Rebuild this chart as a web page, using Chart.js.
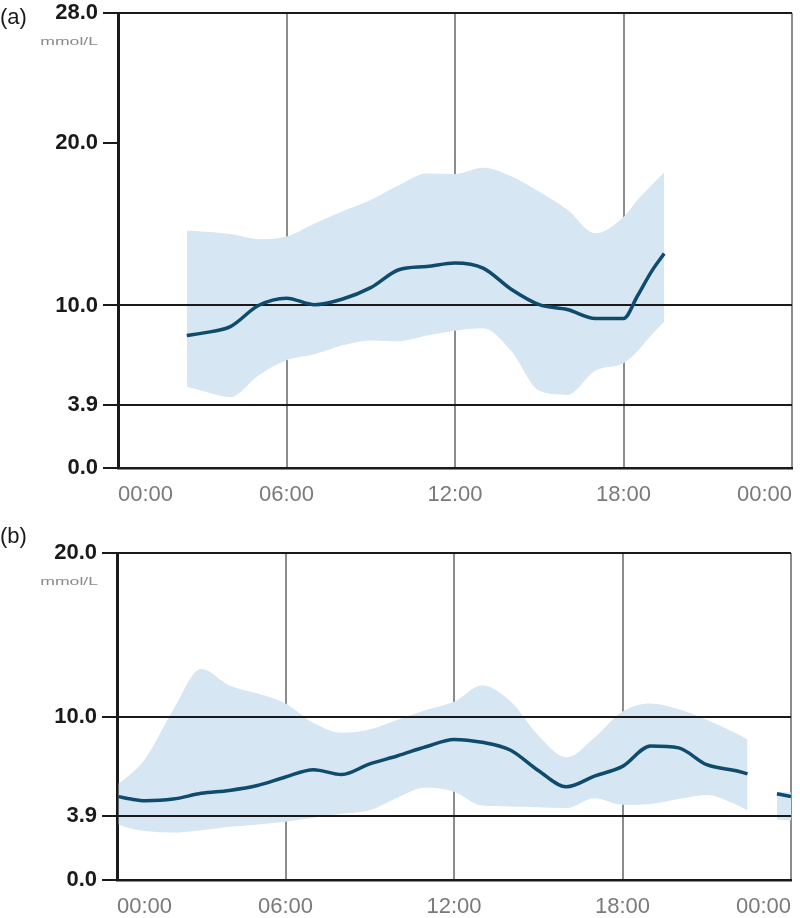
<!DOCTYPE html>
<html>
<head>
<meta charset="utf-8">
<title>Glucose profile</title>
<script src="https://cdn.jsdelivr.net/npm/chart.js@4.4.1/dist/chart.umd.min.js"></script>
<style>
  html, body { margin:0; padding:0; background:#fff; overflow:hidden; }
  #wrap { position:relative; width:800px; height:918px; overflow:hidden; }
  canvas { position:absolute; left:0; }
  #chartA { top:-3px; }
  #chartB { top:518px; }
</style>
</head>
<body>
<div id="wrap">
  <canvas id="chartA" width="806" height="511"></canvas>
  <canvas id="chartB" width="805" height="400"></canvas>
</div>
<script>
/* --------- data --------------------------------- */
const X_LABELS = ['00:00', '06:00', '12:00', '18:00', '00:00'];

// panel (a)
const Y_TICKS_A = [0, 3.9, 10, 20, 28];
const HOURS_A  = [2.45, 3, 4, 5, 6, 7, 8, 9, 10, 11, 12, 13, 14, 15, 16, 17, 18, 18.5, 19, 19.45];
const MEDIAN_A = [8.15, 8.3, 8.7, 10.0, 10.45, 10.05, 10.4, 11.1, 12.2, 12.4, 12.62, 12.3, 11.0, 10.05, 9.75, 9.2, 9.2, 10.6, 12.1, 13.2];
const UPPER_A  = [14.6, 14.55, 14.4, 14.1, 14.25, 15.05, 15.8, 16.5, 17.4, 18.12, 18.1, 18.48, 17.95, 17.0, 15.9, 14.45, 15.45, 16.5, 17.4, 18.2];
const LOWER_A  = [5.0, 4.75, 4.37, 5.7, 6.63, 7.0, 7.55, 7.85, 7.8, 8.15, 8.45, 8.6, 7.2, 4.75, 4.5, 6.0, 6.45, 7.2, 8.2, 9.0];

// panel (b)  (null = no data, line is broken)
const Y_TICKS_B = [0, 3.9, 10, 20];
const HOURS_B  = [0.05, 0.5, 1, 2, 3, 4, 5, 6, 7, 8, 9, 10, 11, 12, 13, 14, 15, 16, 17, 18, 19, 20, 21, 22, 22.45, 23, 23.5, 24];
const MEDIAN_B = [5.1, 4.95, 4.85, 4.95, 5.3, 5.48, 5.78, 6.3, 6.75, 6.45, 7.1, 7.6, 8.15, 8.6, 8.42, 7.95, 6.7, 5.7, 6.35, 6.95, 8.2, 8.08, 7.05, 6.7, 6.5, null, 5.28, 5.1];
const UPPER_B  = [5.9, 6.5, 7.4, 10.4, 12.9, 11.9, 11.4, 10.8, 9.6, 9.0, 9.2, 9.8, 10.4, 10.9, 11.9, 10.95, 8.85, 7.5, 8.7, 10.3, 10.8, 10.45, 9.8, 9.0, 8.6, null, 5.4, 5.35];
const LOWER_B  = [3.4, 3.15, 3.0, 2.9, 3.05, 3.25, 3.4, 3.57, 3.8, 4.05, 4.27, 5.05, 5.65, 5.4, 4.55, 4.5, 4.45, 4.4, 5.0, 4.6, 4.65, 4.95, 5.2, 4.65, 4.25, null, 3.7, 3.65];

// reference lines drawn over the band
const REF_LINES = [3.9, 10.0];

/* --------- styles ---------- */
const FONT = '"Liberation Sans", Arial, Helvetica, sans-serif';
const BAND_COLOR = '#d6e6f2';
const LINE_COLOR = '#0f4b6c';
const GRID_GRAY = '#8c8c8c';
const INK = '#1a1a1a';

const pts = (xs, ys) => xs.map((x, i) => ({ x: x, y: ys[i] }));

/* reference lines + panel letter + unit */
const overlay = {
  id: 'overlay',
  afterDatasetDraw(chart, args, opts) {
    if (args.index !== 1) return; // after the band, before the median line
    const { ctx, chartArea, scales } = chart;
    ctx.save();
    ctx.strokeStyle = INK;
    ctx.lineWidth = 2;
    opts.lines.forEach(v => {
      const y = Math.round(scales.y.getPixelForValue(v));
      ctx.beginPath();
      ctx.moveTo(chartArea.left, y);
      ctx.lineTo(chartArea.right, y);
      ctx.stroke();
    });
    ctx.restore();
  },
  afterDraw(chart, args, opts) {
    const { ctx, chartArea } = chart;
    ctx.save();
    ctx.fillStyle = INK;
    ctx.font = '22px ' + FONT;
    ctx.textAlign = 'left';
    ctx.textBaseline = 'middle';
    ctx.fillText(opts.letter, 0, chartArea.top + opts.letterDy);
    // unit, a bit stretched like in the source
    ctx.fillStyle = '#8a8a8a';
    ctx.font = '11px ' + FONT;
    ctx.textAlign = 'right';
    ctx.translate(98, chartArea.top + 29);
    ctx.scale(1.6, 1);
    ctx.fillText(opts.unit, 0, 0);
    ctx.restore();
  }
};

function makeChart(id, p) {
  const ctx = document.getElementById(id).getContext('2d');
  return new Chart(ctx, {
    type: 'line',
    data: {
      datasets: [
        { label: 'Median', data: pts(p.hours, p.median), borderColor: LINE_COLOR, borderWidth: 3.5,
          pointRadius: 0, cubicInterpolationMode: 'monotone', spanGaps: false, fill: false },
        { label: 'Upper', data: pts(p.hours, p.upper), borderWidth: 0, borderColor: BAND_COLOR,
          backgroundColor: BAND_COLOR, pointRadius: 0, cubicInterpolationMode: 'monotone', spanGaps: false, fill: '+1' },
        { label: 'Lower', data: pts(p.hours, p.lower), borderWidth: 0, borderColor: BAND_COLOR,
          pointRadius: 0, cubicInterpolationMode: 'monotone', spanGaps: false, fill: false }
      ]
    },
    options: {
      responsive: false,
      animation: false,
      layout: { padding: { top: p.padTop, right: 0, left: 0, bottom: 0 } },
      plugins: {
        legend: { display: false },
        tooltip: { enabled: false },
        overlay: { lines: REF_LINES, letter: p.letter, letterDy: p.letterDy, unit: 'mmol/L' }
      },
      scales: {
        x: {
          type: 'linear', min: 0, max: 24,
          afterBuildTicks: s => { s.ticks = [0, 6, 12, 18, 24].map(v => ({ value: v })); },
          afterFit: s => { s.height = p.xHeight; },
          ticks: { callback: (v, i) => X_LABELS[i], align: 'inner', maxRotation: 0, padding: 14,
                   color: '#7a7a7a', font: { family: FONT, size: 22 } },
          grid: { color: GRID_GRAY, lineWidth: 2, drawTicks: false },
          border: { display: true, color: INK, width: 2.5 }
        },
        y: {
          type: 'linear', min: 0, max: p.yMax,
          afterBuildTicks: s => { s.ticks = p.yTicks.map(v => ({ value: v })); },
          afterFit: s => { s.width = p.yWidth; },
          ticks: { callback: v => Number(v).toFixed(1), padding: 5, color: INK,
                   font: { family: FONT, size: 22, weight: 'bold', lineHeight: 1 } },
          grid: { color: c => (c.tick && c.tick.value === p.yMax) ? INK : 'rgba(0,0,0,0)',
                  lineWidth: 2, tickColor: INK, tickWidth: 2, tickLength: 15, drawTicks: true },
          border: { display: true, color: INK, width: 3 }
        }
      }
    },
    plugins: [overlay]
  });
}

window.addEventListener('DOMContentLoaded', () => {
  makeChart('chartA', {
    hours: HOURS_A, median: MEDIAN_A, upper: UPPER_A, lower: LOWER_A,
    yTicks: Y_TICKS_A, yMax: 28, letter: '(a)', letterDy: 5,
    padTop: 8, xHeight: 40, yWidth: 118
  });
  makeChart('chartB', {
    hours: HOURS_B, median: MEDIAN_B, upper: UPPER_B, lower: LOWER_B,
    yTicks: Y_TICKS_B, yMax: 20, letter: '(b)', letterDy: -16,
    padTop: 35, xHeight: 38, yWidth: 117
  });
});
</script>
</body>
</html>
